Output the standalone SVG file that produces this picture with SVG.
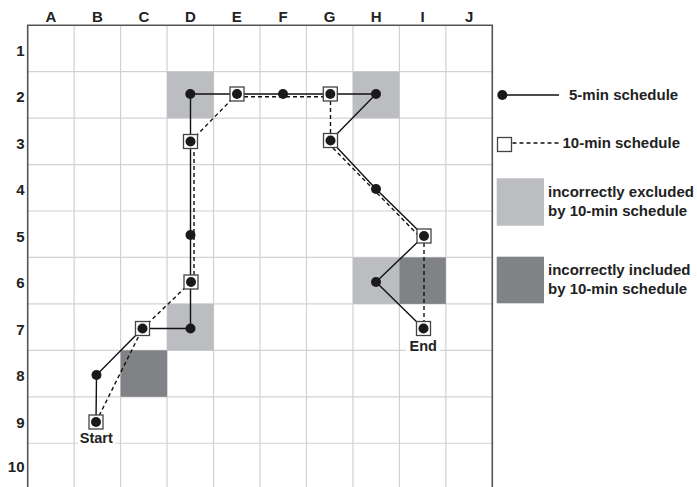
<svg xmlns="http://www.w3.org/2000/svg" width="697" height="487" viewBox="0 0 697 487">
<style>
.lbl{font-family:"Liberation Sans",Arial,sans-serif;font-weight:bold;font-size:15px;fill:#222}
.leg{font-family:"Liberation Sans",Arial,sans-serif;font-weight:bold;font-size:15px;fill:#222}
.grid{stroke:#d2d2d2;stroke-width:1.2;fill:none}
.border{stroke:#555;stroke-width:1.6;fill:none}
.excl{fill:#bcbdc0}
.incl{fill:#818285}
.solid{stroke:#111;stroke-width:1.4;fill:none}
.dash{stroke:#111;stroke-width:1.4;fill:none;stroke-dasharray:4,3}
.sq{fill:#fff;stroke:#444;stroke-width:1.3}
.dot{fill:#1a1a1a}
</style>
<defs>
<circle id="d" r="5" class="dot"/>
<rect id="s" x="-7" y="-7" width="14" height="14" class="sq"/>
</defs>
<rect width="697" height="487" fill="#fff"/>
<g id="grid">
<path class="grid" d="M74.16 25.2V487M120.62 25.2V487M167.08 25.2V487M213.54 25.2V487M260 25.2V487M306.46 25.2V487M352.92 25.2V487M399.38 25.2V487M445.84 25.2V487"/>
<path class="grid" d="M27.7 71.65H492.3M27.7 118.1H492.3M27.7 164.55H492.3M27.7 211H492.3M27.7 257.45H492.3M27.7 303.9H492.3M27.7 350.35H492.3M27.7 396.8H492.3M27.7 443.25H492.3"/>
</g>
<g id="shading">
<rect class="excl" x="167.08" y="71.65" width="46.46" height="46.45"/>
<rect class="excl" x="352.92" y="71.65" width="46.46" height="46.45"/>
<rect class="excl" x="167.08" y="303.9" width="46.46" height="46.45"/>
<rect class="excl" x="352.92" y="257.45" width="46.46" height="46.45"/>
<rect class="incl" x="399.38" y="257.45" width="46.46" height="46.45"/>
<rect class="incl" x="120.62" y="350.35" width="46.46" height="46.45"/>
</g>
<path class="border" d="M27.7 487V25.2H492.3V487"/>
<g id="col-labels" text-anchor="middle">
<text class="lbl" x="50.9" y="22">A</text>
<text class="lbl" x="97.4" y="22">B</text>
<text class="lbl" x="143.9" y="22">C</text>
<text class="lbl" x="190.3" y="22">D</text>
<text class="lbl" x="236.8" y="22">E</text>
<text class="lbl" x="283.2" y="22">F</text>
<text class="lbl" x="329.7" y="22">G</text>
<text class="lbl" x="376.2" y="22">H</text>
<text class="lbl" x="422.6" y="22">I</text>
<text class="lbl" x="469.1" y="22">J</text>
</g>
<g id="row-labels" text-anchor="end">
<text class="lbl" x="24.5" y="56">1</text>
<text class="lbl" x="24.5" y="102.4">2</text>
<text class="lbl" x="24.5" y="148.9">3</text>
<text class="lbl" x="24.5" y="195.3">4</text>
<text class="lbl" x="24.5" y="241.8">5</text>
<text class="lbl" x="24.5" y="288.2">6</text>
<text class="lbl" x="24.5" y="334.7">7</text>
<text class="lbl" x="24.5" y="381.1">8</text>
<text class="lbl" x="24.5" y="428">9</text>
<text class="lbl" x="24.5" y="472">10</text>
</g>
<g id="connectors">
<polyline class="solid" points="96,422 96.5,375 142.5,328.5 190.5,328.5 190.5,94 376,94 330.5,140.5 376,189 424,236 376,282 423.5,328.5"/>
<line class="dash" x1="96" y1="422" x2="142.5" y2="328.5"/>
<line class="dash" x1="142.5" y1="328.5" x2="191" y2="282"/>
<line class="dash" x1="194" y1="282" x2="194" y2="141.5"/>
<line class="dash" x1="190.5" y1="141.5" x2="237" y2="94"/>
<line class="dash" x1="237" y1="96.8" x2="330.3" y2="96.8"/>
<line class="dash" x1="330.5" y1="94" x2="330.5" y2="140.5"/>
<line class="dash" x1="328" y1="143" x2="421.5" y2="238.5"/>
<line class="dash" x1="424" y1="236" x2="424" y2="328.5"/>
</g>
<g id="B9"><use href="#s" x="96" y="422"/><use href="#d" x="96" y="422"/></g>
<g id="B8"><use href="#d" x="96.5" y="375"/></g>
<g id="C7"><use href="#s" x="142.5" y="328.5"/><use href="#d" x="142.5" y="328.5"/></g>
<g id="D7"><use href="#d" x="190.5" y="328.5"/></g>
<g id="D6"><use href="#s" x="191" y="282"/><use href="#d" x="191" y="282"/></g>
<g id="D5"><use href="#d" x="190.5" y="235"/></g>
<g id="D3"><use href="#s" x="190.5" y="141.5"/><use href="#d" x="190.5" y="141.5"/></g>
<g id="D2"><use href="#d" x="190.3" y="94"/></g>
<g id="E2"><use href="#s" x="237" y="94"/><use href="#d" x="237" y="94"/></g>
<g id="F2"><use href="#d" x="283" y="94"/></g>
<g id="G2"><use href="#s" x="330.3" y="94"/><use href="#d" x="330.3" y="94"/></g>
<g id="H2"><use href="#d" x="376" y="94"/></g>
<g id="G3"><use href="#s" x="330.5" y="140.5"/><use href="#d" x="330.5" y="140.5"/></g>
<g id="H4"><use href="#d" x="376" y="189"/></g>
<g id="I5"><use href="#s" x="424" y="236"/><use href="#d" x="424" y="236"/></g>
<g id="H6"><use href="#d" x="376" y="282"/></g>
<g id="I7"><use href="#s" x="423.5" y="328.5"/><use href="#d" x="423.5" y="328.5"/></g>
<g id="start-label">
<rect x="78" y="430" width="37" height="16" fill="#fff"/>
<text class="lbl" style="font-size:14.5px" x="96.3" y="443.3" text-anchor="middle">Start</text>
</g>
<g id="end-label">
<rect x="406" y="337" width="34" height="16" fill="#fff"/>
<text class="lbl" style="font-size:14.5px" x="423.3" y="351" text-anchor="middle">End</text>
</g>
<g id="legend">
<g id="legend-5min">
<circle cx="502.3" cy="95" r="5" class="dot"/>
<line class="solid" x1="507" y1="95" x2="559" y2="95"/>
<text class="leg" x="569" y="99.5">5-min schedule</text>
</g>
<g id="legend-10min">
<rect x="497.5" y="137.5" width="14" height="14" class="sq"/>
<line class="dash" x1="512.5" y1="143" x2="561" y2="143"/>
<text class="leg" x="562.5" y="147.5">10-min schedule</text>
</g>
<g id="legend-excluded">
<rect class="excl" x="496.7" y="178.3" width="47.3" height="47.4"/>
<text class="leg" x="548" y="197.3">incorrectly excluded</text>
<text class="leg" x="548" y="216.3">by 10-min schedule</text>
</g>
<g id="legend-included">
<rect class="incl" x="496.7" y="256.7" width="47.3" height="46.6"/>
<text class="leg" x="548" y="274.5">incorrectly included</text>
<text class="leg" x="548" y="293.5">by 10-min schedule</text>
</g>
</g>
</svg>
